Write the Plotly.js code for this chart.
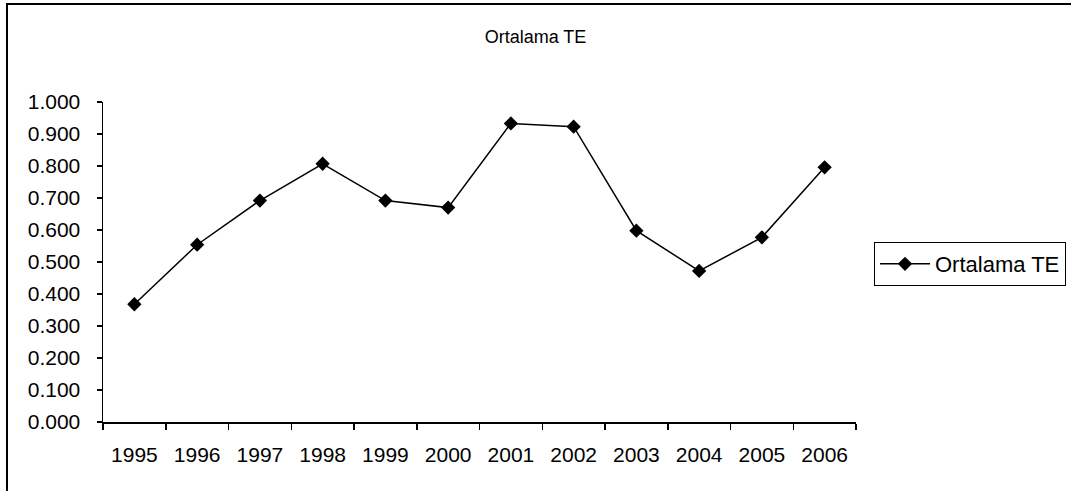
<!DOCTYPE html>
<html>
<head>
<meta charset="utf-8">
<script src="https://cdn.plot.ly/plotly-3.0.1.min.js"></script>
<style>
  html, body { margin: 0; padding: 0; background: #fff; }
  #chart { width: 1071px; height: 491px; }
</style>
</head>
<body>
<div id="chart"></div>
<script>
const years = ["1995","1996","1997","1998","1999","2000","2001","2002","2003","2004","2005","2006"];
const ortalamaTE = [0.368, 0.554, 0.692, 0.807, 0.692, 0.670, 0.933, 0.923, 0.598, 0.472, 0.577, 0.796];
const seriesName = "Ortalama TE";
const chartTitle = "Ortalama TE";

const FONT = "Liberation Sans, Arial, sans-serif";

const trace = {
  x: years,
  y: ortalamaTE,
  name: seriesName,
  type: "scatter",
  mode: "lines+markers",
  line: { color: "#000", width: 1.5 },
  marker: { symbol: "diamond", size: 11, color: "#000" },
  showlegend: true
};

const layout = {
  width: 1071,
  height: 491,
  margin: { l: 103, r: 215, t: 102, b: 69, autoexpand: false },
  paper_bgcolor: "#fff",
  plot_bgcolor: "#fff",
  font: { family: FONT, size: 21, color: "#000" },
  title: {
    text: chartTitle,
    font: { family: FONT, size: 18, color: "#000" },
    x: 0.5, xref: "container", xanchor: "center",
    y: 1 - 37 / 491, yref: "container", yanchor: "middle"
  },
  xaxis: {
    type: "category",
    range: [-0.5, 11.5],
    tickson: "boundaries",
    ticks: "outside",
    ticklen: 6,
    tickwidth: 1.5,
    tickcolor: "#000",
    showline: true,
    linecolor: "#000",
    linewidth: 1.5,
    showgrid: false,
    zeroline: false,
    ticklabelstandoff: 13,
    tickfont: { family: FONT, size: 21, color: "#000" },
    fixedrange: true
  },
  yaxis: {
    range: [0, 1],
    dtick: 0.1,
    tick0: 0,
    tickformat: ".3f",
    ticks: "outside",
    ticklen: 5,
    tickwidth: 1.5,
    tickcolor: "#000",
    showline: true,
    linecolor: "#000",
    linewidth: 1.5,
    showgrid: false,
    zeroline: false,
    ticklabelstandoff: 12,
    tickfont: { family: FONT, size: 21, color: "#000" },
    fixedrange: true
  },
  legend: {
    x: (874 - 103) / 753,
    xanchor: "left",
    y: 1 - (242 - 102) / 320,
    yanchor: "top",
    bordercolor: "#000",
    borderwidth: 1,
    bgcolor: "#fff",
    font: { family: FONT, size: 22, color: "#000" },
    itemwidth: 50
  },
  shapes: [
    {
      type: "rect",
      xref: "paper", yref: "paper",
      x0: (7 - 103) / 753, x1: 1.6,
      y0: -0.5, y1: 1 + (102 - 4) / 320,
      line: { color: "#000", width: 2 },
      fillcolor: "rgba(0,0,0,0)",
      layer: "below"
    }
  ]
};

Plotly.newPlot("chart", [trace], layout, { displayModeBar: false, staticPlot: true });
</script>
</body>
</html>
